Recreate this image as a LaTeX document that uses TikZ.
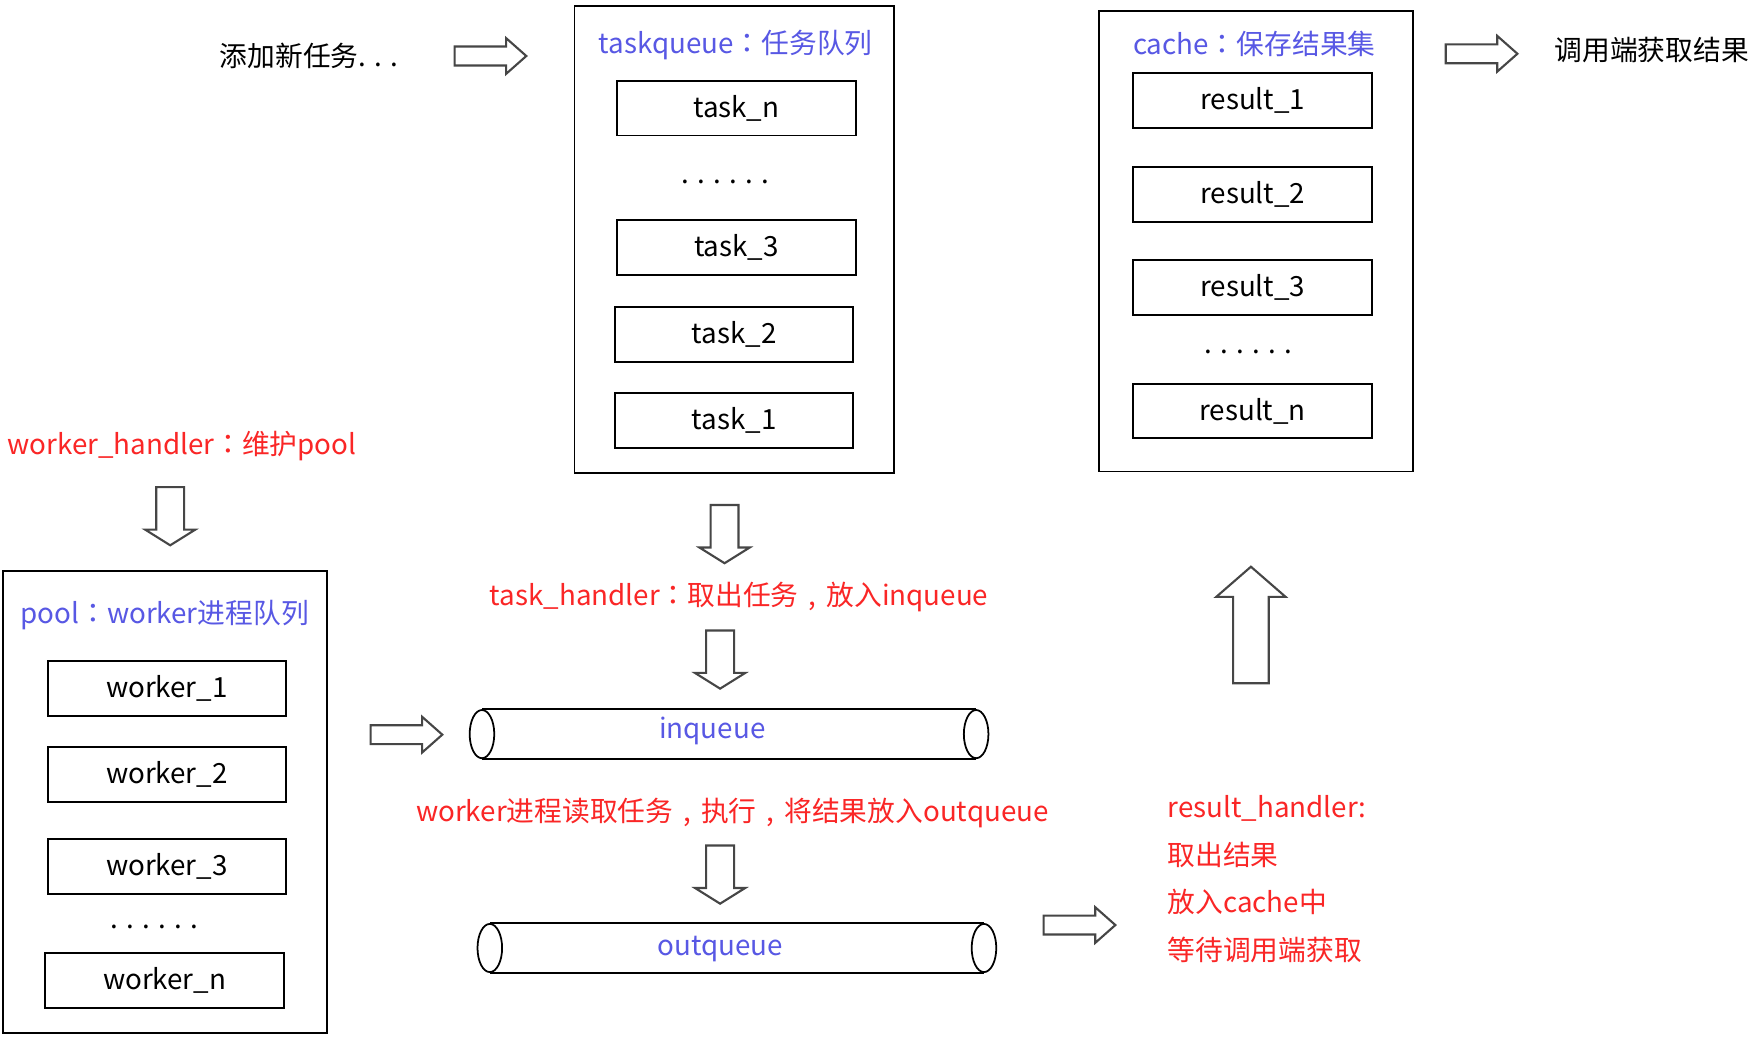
\documentclass[tikz,border=0pt]{standalone}
\usepackage{fontspec}
\setmainfont{Noto Sans CJK SC}
\newfontfamily\tcpunct{Noto Sans CJK TC}
\newcommand{\zhcolon}{{\tcpunct ：}}
\newcommand{\zhcomma}{\makebox[1em][c]{,}}
\usetikzlibrary{shapes.arrows}
\definecolor{titleblue}{RGB}{88,88,228}
\definecolor{notered}{RGB}{250,38,38}
\definecolor{arrowgray}{RGB}{70,70,70}

\begin{document}
\begin{tikzpicture}[x=0.112mm,y=-0.112mm,font=\fontsize{7.9}{9.4}\selectfont]
\tikzstyle{box} = [rectangle,draw=black,line width=0.55pt,minimum width=23.86mm,minimum height=5.49mm,inner sep=0pt]
\tikzstyle{frame} = [rectangle,draw=black,line width=0.55pt,inner sep=0pt]
\tikzstyle{title} = [text=titleblue,inner sep=0pt]
\tikzstyle{note} = [text=notered,inner sep=0pt]
\tikzstyle{dots} = [anchor=base,inner sep=0pt]
\tikzstyle{tube} = [draw=black,line width=0.5pt]
\tikzstyle{tubebody} = [rectangle,minimum width=49.28mm,minimum height=4.82mm,inner sep=0pt]
\tikzstyle{hArrow} = [single arrow,anchor=tail,draw=arrowgray,line width=0.6pt,inner xsep=0pt,inner ysep=0.84mm,single arrow head extend=0.84mm,single arrow tip angle=83,minimum height=7.17mm]
\tikzstyle{vArrow} = [single arrow,anchor=tail,draw=arrowgray,line width=0.6pt,inner xsep=0pt,inner ysep=1.29mm,single arrow head extend=1.12mm,single arrow tip angle=116,minimum height=5.82mm,rotate=-90]

\useasboundingbox (0,0) rectangle (1568,927);
\fill[white] (0,0) rectangle (1568,927);

% taskqueue
\node[frame,minimum width=31.92mm,minimum height=46.70mm](taskqueue) at (655.5,213.5) {};
\node[title](tasktitle) at (657,40) {taskqueue\zhcolon 任务队列};
\node[box](taskn) at (657.5,96.5) {task\_n};
\node[dots](taskdots) at (648,164) {. . . . . .};
\node[box](task3) at (657.5,221) {task\_3};
\node[box](task2) at (655.5,298.5) {task\_2};
\node[box](task1) at (655.5,375.5) {task\_1};

% cache
\node[frame,minimum width=31.47mm,minimum height=46.03mm](cache) at (1121.5,215.5) {};
\node[title](cachetitle) at (1120,39) {cache\zhcolon 保存结果集};
\node[box](result1) at (1118.5,90) {result\_1};
\node[box](result2) at (1118.5,173.5) {result\_2};
\node[box](result3) at (1118.5,257) {result\_3};
\node[dots](resultdots) at (1115,316) {. . . . . .};
\node[box](resultn) at (1118.5,367) {result\_n};

% pool
\node[frame,minimum width=32.37mm,minimum height=46.14mm](pool) at (147.5,716) {};
\node[title](pooltitle) at (147,549) {pool\zhcolon worker进程队列};
\node[box](worker1) at (149,614.5) {worker\_1};
\node[box](worker2) at (149,691.5) {worker\_2};
\node[box](worker3) at (149,773.5) {worker\_3};
\node[dots](workerdots) at (138,829) {. . . . . .};
\node[box](workern) at (147,875.5) {worker\_n};

% texts
\node(addtask) at (276,50) {添加新任务. . .};
\node(caller) at (1475,45) {调用端获取结果};
\node[note](workerhandler) at (162.5,398) {worker\_handler\zhcolon 维护pool};
\node[note](taskhandler) at (660,533) {task\_handler\zhcolon 取出任务\zhcomma 放入inqueue};
\node[note](workerread) at (654,726) {worker进程读取任务\zhcomma 执行\zhcomma 将结果放入outqueue};
\node[note,anchor=west,align=left,font=\fontsize{7.9}{13.6}\selectfont](reshandler) at (1042,785)
  {result\_handler:\\取出结果\\放入cache中\\等待调用端获取};

% queues
\node[tubebody](inqueue) at (651,655.5) {};
\node[title](inlabel) at (636,653) {inqueue};
\draw[tube] (inqueue.north west) -- (inqueue.north east) (inqueue.south west) -- (inqueue.south east);
\draw[tube] (inqueue.west) ellipse [x radius=1.23mm,y radius=2.41mm];
\draw[tube] (inqueue.east) ellipse [x radius=1.23mm,y radius=2.41mm];

\node[tubebody](outqueue) at (658,846.5) {};
\node[title](outlabel) at (643,847) {outqueue};
\draw[tube] (outqueue.north west) -- (outqueue.north east) (outqueue.south west) -- (outqueue.south east);
\draw[tube] (outqueue.west) ellipse [x radius=1.23mm,y radius=2.41mm];
\draw[tube] (outqueue.east) ellipse [x radius=1.23mm,y radius=2.41mm];

% block arrows
\node[hArrow](addarrow) at (405,50) {};
\node[hArrow](getarrow) at (1290,48) {};
\node[vArrow](poolarrow) at (152,434) {};
\node[vArrow](takearrow) at (647,450) {};
\node[vArrow](putarrow) at (643,562) {};
\node[hArrow](workarrow) at (330,656) {};
\node[vArrow](outarrow) at (643,754) {};
\node[hArrow](resarrow) at (931,826) {};
\node[single arrow,anchor=tail,draw=arrowgray,line width=0.6pt,inner xsep=0pt,inner ysep=1.68mm,single arrow head extend=1.68mm,
  single arrow tip angle=98,minimum height=11.65mm,rotate=90](cachearrow) at (1117,611) {};

\end{tikzpicture}
\end{document}
